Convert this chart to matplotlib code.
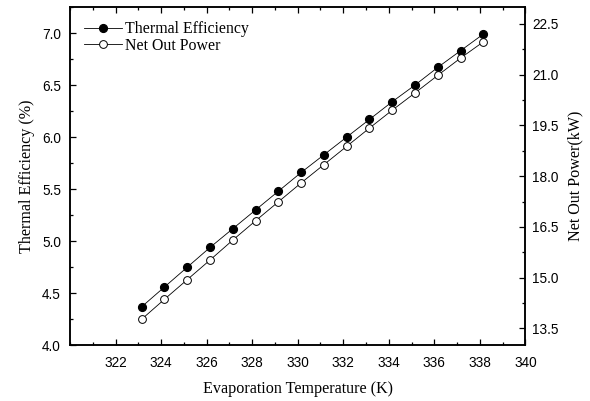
import matplotlib.pyplot as plt
from matplotlib.ticker import MultipleLocator

# Evaporation temperature sweep (K)
temps = [323.15, 324.15, 325.15, 326.15, 327.15, 328.15, 329.15, 330.15,
         331.15, 332.15, 333.15, 334.15, 335.15, 336.15, 337.15, 338.15]
# Thermal efficiency (%)
efficiency = [4.37, 4.56, 4.75, 4.94, 5.12, 5.30, 5.48, 5.66,
              5.83, 6.00, 6.17, 6.34, 6.50, 6.67, 6.83, 6.99]
# Net output power (kW)
power = [13.77, 14.36, 14.94, 15.52, 16.11, 16.68, 17.24, 17.80,
         18.34, 18.88, 19.42, 19.95, 20.46, 20.98, 21.49, 21.97]

# tick numbers in sans, titles and legend in serif
plt.rcParams['font.family'] = 'Liberation Sans'
serif = 'Liberation Serif'

fig = plt.figure(figsize=(5.9, 4.01), dpi=100)
ax = fig.add_axes([0.1186, 0.139, 0.772, 0.8435])
ax2 = ax.twinx()

l1, = ax.plot(temps, efficiency, color='black', lw=0.6, marker='o',
              ms=5.6, mfc='black', mec='black', label='Thermal Efficiency')
l2, = ax2.plot(temps, power, color='black', lw=0.6, marker='o',
               ms=5.6, mfc='white', mec='black', mew=0.7, label='Net Out Power')

ax.set_xlim(320, 340)
ax.set_ylim(4.0, 7.25)
ax2.set_ylim(13.0, 23.0)

ax.xaxis.set_major_locator(MultipleLocator(2))
ax.xaxis.set_minor_locator(MultipleLocator(1))
ax.yaxis.set_major_locator(MultipleLocator(0.5))
ax.yaxis.set_minor_locator(MultipleLocator(0.25))
ax2.set_yticks([13.5, 15.0, 16.5, 18.0, 19.5, 21.0, 22.5])
ax2.set_yticks([14.25, 15.75, 17.25, 18.75, 20.25, 21.75], minor=True)
ax.set_xticks([322, 324, 326, 328, 330, 332, 334, 336, 338, 340])
ax.set_yticklabels([f'{v:.1f}' for v in ax.get_yticks()])

for a in (ax, ax2):
    for s in a.spines.values():
        s.set_linewidth(1.1)
ax.tick_params(which='both', direction='in', top=True, right=False,
               labelsize=9.8, width=0.9)
ax.tick_params(which='major', length=4.5)
ax.tick_params(which='minor', length=2.5)
ax.tick_params(axis='x', pad=7.5)
ax.tick_params(axis='y', pad=6.5)
ax2.tick_params(which='both', direction='in', labelsize=9.8, width=0.9, pad=5)
ax2.tick_params(which='major', length=4.5)
ax2.tick_params(which='minor', length=2.5)

ax.set_xlabel('Evaporation Temperature (K)', fontfamily=serif, fontsize=11.6, labelpad=8)
ax.set_ylabel('Thermal Efficiency (%)', fontfamily=serif, fontsize=11.6, labelpad=5)
ax2.set_ylabel('Net Out Power(kW)', fontfamily=serif, fontsize=11.6, labelpad=6)

ax.legend(handles=[l1, l2], loc='upper left', frameon=False,
          prop={'family': serif, 'size': 11.4}, handlelength=2.4,
          handletextpad=0.2, labelspacing=0.02, borderaxespad=0.5)

fig.savefig('out.png', dpi=100)
